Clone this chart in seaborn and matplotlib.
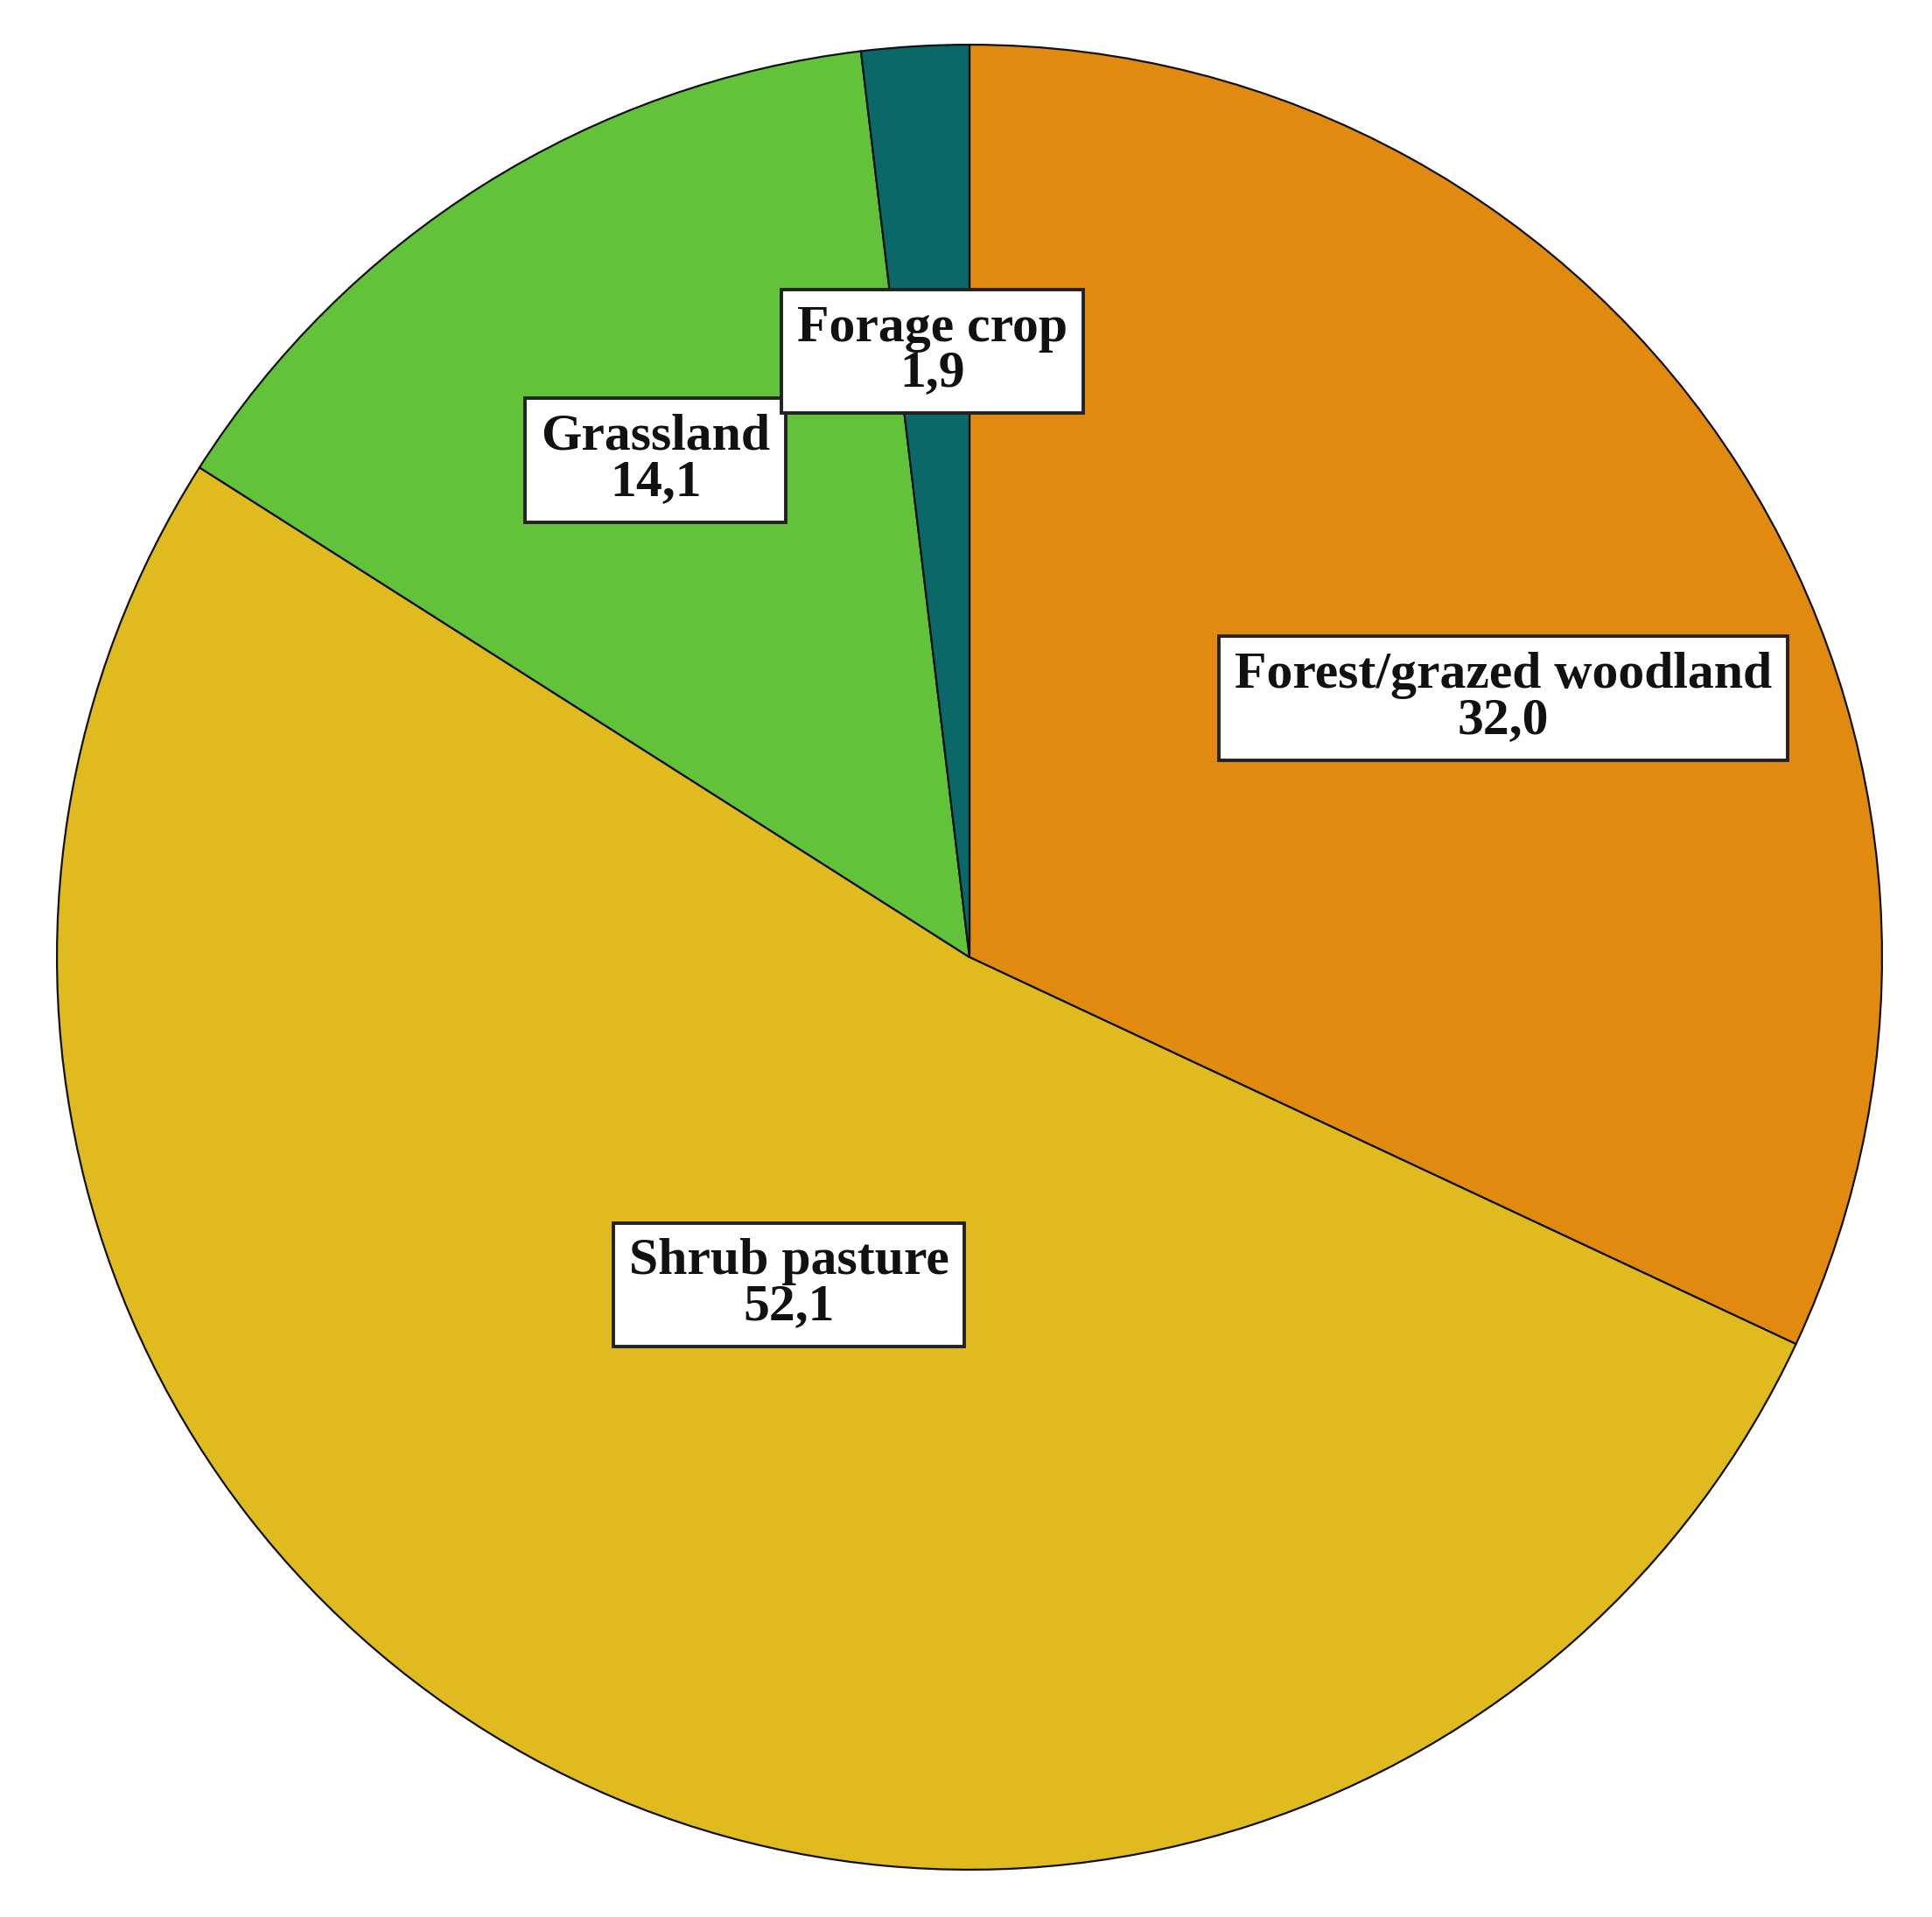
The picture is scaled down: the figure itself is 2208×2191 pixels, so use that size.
import matplotlib
matplotlib.use("Agg")
import matplotlib.pyplot as plt
import seaborn as sns

# data
categories = ["Forest/grazed woodland", "Shrub pasture", "Grassland", "Forage crop"]
shares = [32.0, 52.1, 14.1, 1.9]
colors = ["#E08A10", "#E0BB1F", "#62C23A", "#0A6868"]

# label box centres (data units of the pie axes), picked to match the reference layout
label_xy = [(0.585, 0.284), (-0.198, -0.359), (-0.344, 0.545), (-0.041, 0.664)]

sns.set_theme(style="white")
plt.rcParams["font.family"] = ["Liberation Serif", "DejaVu Serif"]

W, H = 2208, 2191
cx, cy, r = 1108, 1094, 1045
fig = plt.figure(figsize=(W / 100, H / 100), dpi=100)
ax = fig.add_axes([(cx - r) / W, (H - cy - r) / H, 2 * r / W, 2 * r / H])

wedges, _ = ax.pie(
    shares,
    colors=colors,
    startangle=90,
    counterclock=False,
    radius=1,
    wedgeprops=dict(edgecolor="#111111", linewidth=1.6),
)
ax.set_xlim(-1.002, 1.002)
ax.set_ylim(-1.002, 1.002)
ax.set_aspect("equal")
ax.axis("off")

for name, val, (x, y) in zip(categories, shares, label_xy):
    ax.text(
        x, y, f"{name}\n{val:.1f}".replace(".", ","),
        ha="center", va="center", fontsize=43, fontweight="bold",
        linespacing=0.95, color="#111111",
        bbox=dict(boxstyle="square,pad=0.3", facecolor="white",
                  edgecolor="#222222", linewidth=2.8),
    )

fig.savefig("out.png", dpi=100, facecolor="white")
